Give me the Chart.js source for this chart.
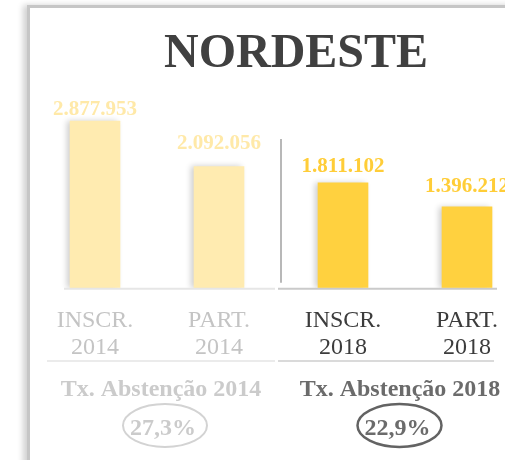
<!DOCTYPE html>
<html>
<head>
<meta charset="utf-8">
<script src="https://cdn.jsdelivr.net/npm/chart.js@4"></script>
<style>
  html, body { margin: 0; padding: 0; background: #fff; overflow: hidden; width: 505px; height: 460px; }
  #card {
    position: absolute; left: 27px; top: 5px; width: 600px; height: 600px;
    border-left: 3px solid #c6c6c6; border-top: 3px solid #c6c6c6;
    box-shadow: -4px 0 6px rgba(0, 0, 0, 0.18);
  }
  #chart { position: absolute; left: 0; top: 0; }
</style>
</head>
<body>
<div id="card"></div>
<canvas id="chart" width="540" height="460"></canvas>
<script>
// Data
const categories = [['INSCR.', '2014'], ['PART.', '2014'], ['INSCR.', '2018'], ['PART.', '2018']];
const values = [2877953, 2092056, 1811102, 1396212];
const abstentionYears = ['2014', '2018'];
const abstentionRates = [27.3, 22.9];

const serif = '"Liberation Serif", "Times New Roman", serif';
const barColors = ['#FFEBB0', '#FFEBB0', '#FFD13F', '#FFD13F'];
const valueColors = ['#FFE9A8', '#FFE9A8', '#FFCD38', '#FFCD38'];
const tickColors = ['#c4c4c4', '#c4c4c4', '#3c3c3c', '#3c3c3c'];

// pt-BR number format: 2.877.953
function fmt(v) {
    return v.toString().replace(/\B(?=(\d{3})+(?!\d))/g, '.');
}

const decorPlugin = {
    id: 'decor',
    beforeDatasetsDraw(chart) {
        const ctx = chart.ctx;
        const x = chart.scales.x;
        const area = chart.chartArea;
        const mid = (x.getPixelForValue(1) + x.getPixelForValue(2)) / 2;
        const left = x.getPixelForValue(0) - 31;
        const right = x.getPixelForValue(3) + 30;

        ctx.save();
        // title
        ctx.fillStyle = '#404040';
        ctx.font = 'bold 48px ' + serif;
        ctx.textAlign = 'center';
        ctx.textBaseline = 'alphabetic';
        ctx.fillText('NORDESTE', 296, 67);

        // baselines under the bars
        ctx.lineWidth = 2;
        ctx.strokeStyle = '#e6e6e6';
        ctx.beginPath(); ctx.moveTo(left, area.bottom + 1); ctx.lineTo(mid - 6, area.bottom + 1); ctx.stroke();
        ctx.strokeStyle = '#cacaca';
        ctx.beginPath(); ctx.moveTo(mid - 3, area.bottom + 1); ctx.lineTo(right, area.bottom + 1); ctx.stroke();

        // lines under the tick labels
        ctx.strokeStyle = '#ebebeb';
        ctx.beginPath(); ctx.moveTo(left - 17, 361); ctx.lineTo(mid - 6, 361); ctx.stroke();
        ctx.strokeStyle = '#dadada';
        ctx.beginPath(); ctx.moveTo(mid - 3, 361); ctx.lineTo(right - 3, 361); ctx.stroke();

        // vertical separator
        ctx.strokeStyle = '#b8b8b8';
        ctx.beginPath(); ctx.moveTo(mid, 139); ctx.lineTo(mid, area.bottom - 5); ctx.stroke();
        ctx.restore();

        // bar shadow
        ctx.save();
        ctx.shadowColor = 'rgba(0, 0, 0, 0.2)';
        ctx.shadowBlur = 6;
        ctx.shadowOffsetX = -3;
    },
    afterDatasetsDraw(chart) {
        const ctx = chart.ctx;
        ctx.restore();

        // value labels above bars
        const offsets = [6, 18, 11, 15];
        const meta = chart.getDatasetMeta(0);
        ctx.save();
        ctx.font = 'bold 21px ' + serif;
        ctx.textAlign = 'center';
        ctx.textBaseline = 'alphabetic';
        meta.data.forEach((bar, i) => {
            ctx.fillStyle = valueColors[i];
            ctx.fillText(fmt(values[i]), bar.x, bar.y - offsets[i]);
        });

        // abstention rates
        const textX = [161, 400];
        const ellX = [165, 399.5];
        const txtColors = ['#cbcbcb', '#6b6b6b'];
        const ringColors = ['#d3d3d3', '#636363'];
        const ringWidths = [2, 2.5];
        abstentionYears.forEach((yr, i) => {
            ctx.fillStyle = txtColors[i];
            ctx.font = 'bold 24px ' + serif;
            ctx.fillText('Tx. Abstenção ' + yr, textX[i], 396);
            ctx.fillText(abstentionRates[i].toFixed(1).replace('.', ',') + '%', ellX[i] - 2, 435);
            ctx.strokeStyle = ringColors[i];
            ctx.lineWidth = ringWidths[i];
            ctx.beginPath();
            ctx.ellipse(ellX[i], 425.5, 42, 21.5, 0, 0, Math.PI * 2);
            ctx.stroke();
        });
        ctx.restore();
    }
};

new Chart(document.getElementById('chart'), {
    type: 'bar',
    data: {
        labels: categories,
        datasets: [{
            data: values,
            backgroundColor: barColors,
            borderWidth: 0,
            barThickness: 50,
        }],
    },
    options: {
        responsive: false,
        animation: false,
        devicePixelRatio: 1,
        layout: { padding: { top: 85, left: 33, right: 11, bottom: 79 } },
        plugins: {
            legend: { display: false },
            title: { display: false },
            tooltip: { enabled: false },
        },
        scales: {
            x: {
                grid: { display: false, drawTicks: false },
                border: { display: false },
                ticks: {
                    padding: 19,
                    color: (c) => tickColors[c.index],
                    font: { family: serif, size: 24, lineHeight: 1.15 },
                    maxRotation: 0,
                },
            },
            y: {
                display: false,
                min: 0,
                max: 3500000,
            },
        },
    },
    plugins: [decorPlugin],
});
</script>
</body>
</html>
